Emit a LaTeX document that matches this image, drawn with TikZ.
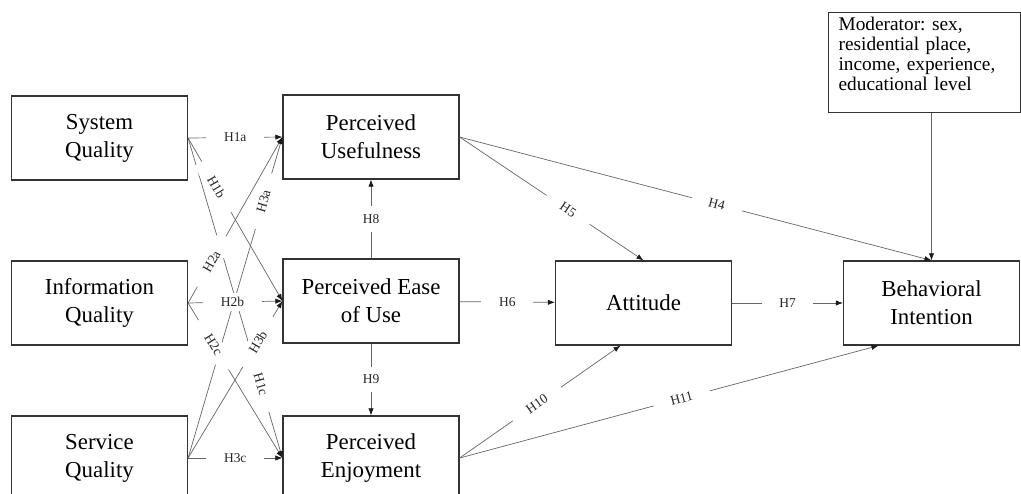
\documentclass[tikz,border=0pt]{standalone}
\usepackage{fontspec}
\setmainfont{Liberation Serif}
\usetikzlibrary{arrows.meta,calc}
\frenchspacing

\begin{document}
\begin{tikzpicture}[
    x=0.03cm, y=-0.03cm,
    construct/.style={draw=black!80, line width=1pt, minimum width=5.28cm, minimum height=2.52cm, align=center, font=\fontsize{19.5}{24}\selectfont},
    arrow/.style={draw=black!60, line width=0.6pt, -{Latex[length=6pt,width=4.5pt,color=black!90]}},
    hyp/.style={fill=white, inner xsep=15pt, inner ysep=3.5pt, text=black!85, font=\fontsize{11.5}{13}\selectfont}
]
    \useasboundingbox (0,0) rectangle (1021,493);

    % quality constructs
    \node[construct] (sq) at (99.5,138) {System\\Quality};
    \node[construct] (iq) at (99.5,303) {Information\\Quality};
    \node[construct] (svq) at (99.5,458) {Service\\Quality};

    % perceptions
    \node[construct] (pu) at (371,137) {Perceived\\Usefulness};
    \node[construct] (peou) at (371,301) {Perceived Ease\\of Use};
    \node[construct] (pe) at (371,458) {Perceived\\Enjoyment};

    \node[construct] (att) at (643.5,303) {Attitude};
    \node[construct] (bi) at (931.5,303) {Behavioral\\Intention};

    \node[draw=black!80, line width=1pt, anchor=north west, minimum width=5.76cm, text width=5.16cm, inner xsep=0.3cm, inner ysep=4pt, text depth=66pt, align=left, font=\fontsize{16.5}{17}\selectfont] (mod) at (828,12) {Moderator: sex,\\residential place,\\income, experience,\\educational level};

    % paths
    \draw[arrow] (sq.east) -- (pu.west);
    \draw[arrow] (sq.east) -- (peou.west);
    \draw[arrow] (sq.east) -- (pe.west);
    \draw[arrow] (iq.east) -- (pu.west);
    \draw[arrow] (iq.east) -- (peou.west);
    \draw[arrow] (iq.east) -- (pe.west);
    \draw[arrow] (svq.east) -- (pu.west);
    \draw[arrow] (svq.east) -- (peou.west);
    \draw[arrow] (svq.east) -- (pe.west);
    \draw[arrow] (peou) -- (pu);
    \draw[arrow] (peou) -- (pe);
    \draw[arrow] (pu.east) -- (att.north);
    \draw[arrow] (pu.east) -- (bi.north);
    \draw[arrow] (peou) -- (att);
    \draw[arrow] (att) -- (bi);
    \draw[arrow] (pe.east) -- ($(att.south)+(-23,0)$);
    \draw[arrow] (pe.east) -- ($(bi.south)+(-53,0)$);
    \draw[arrow] (mod.south -| bi.north) -- (bi.north);

    % labels last, so they cut the crossing lines
    \path (sq.east) -- (pu.west) node[hyp, pos=.5] {H1a};
    \path (sq.east) -- (peou.west) node[hyp, pos=.3, sloped] {H1b};
    \path (sq.east) -- (pe.west) node[hyp, pos=.77, sloped] {H1c};
    \path (iq.east) -- (pu.west) node[hyp, pos=.25, sloped] {H2a};
    \path (iq.east) -- (peou.west) node[hyp, pos=.47] {H2b};
    \path (iq.east) -- (pe.west) node[hyp, pos=.27, sloped] {H2c};
    \path (svq.east) -- (pu.west) node[hyp, pos=.8, sloped] {H3a};
    \path (svq.east) -- (peou.west) node[hyp, pos=.74, sloped] {H3b};
    \path (svq.east) -- (pe.west) node[hyp, pos=.5] {H3c};
    \path (pu.east) -- (bi.north) node[hyp, pos=.545, sloped] {H4};
    \path (pu.east) -- (att.north) node[hyp, pos=.59, sloped] {H5};
    \path (peou) -- (att) node[hyp, midway] {H6};
    \path (att) -- (bi) node[hyp, midway] {H7};
    \path (peou) -- (pu) node[hyp, midway, inner ysep=7pt] {H8};
    \path (peou) -- (pe) node[hyp, midway, inner ysep=7pt] {H9};
    \path (pe.east) -- ($(att.south)+(-23,0)$) node[hyp, pos=.48, sloped] {H10};
    \path (pe.east) -- ($(bi.south)+(-53,0)$) node[hyp, pos=.53, sloped] {H11};
\end{tikzpicture}
\end{document}
